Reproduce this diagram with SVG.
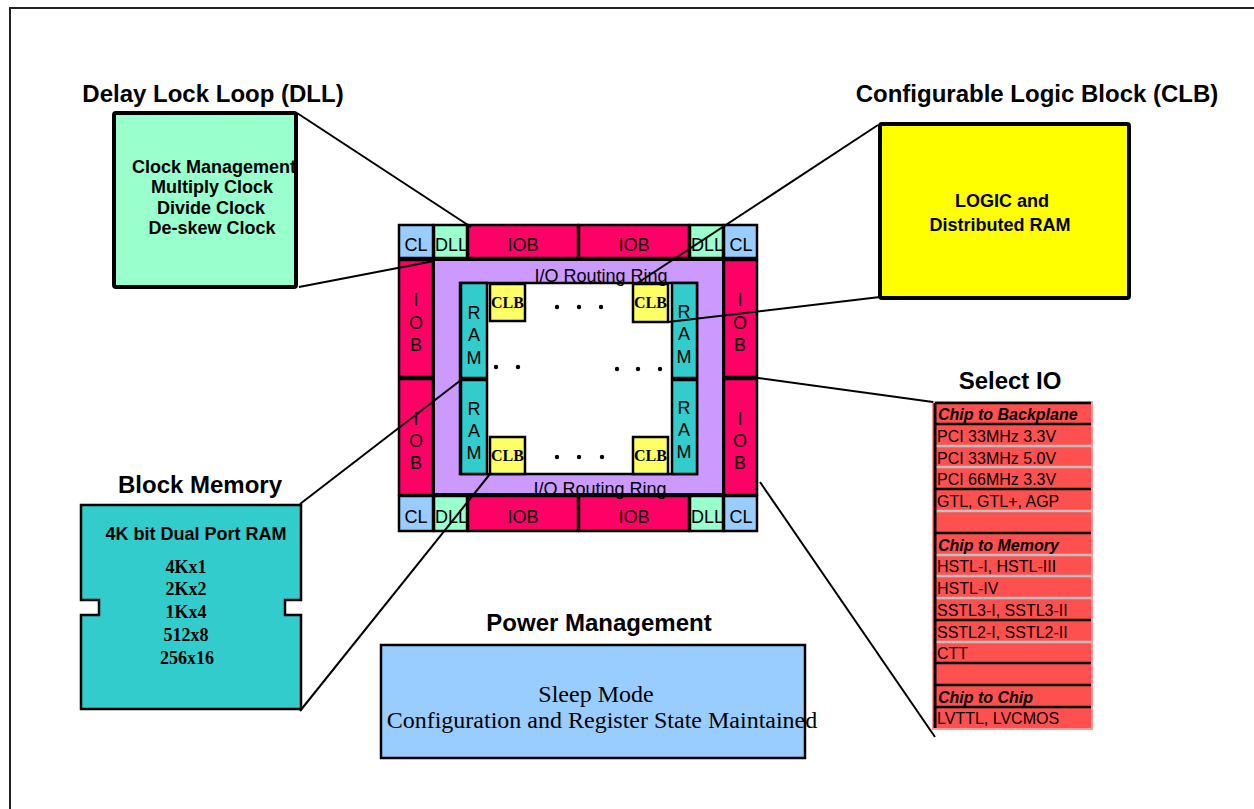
<svg xmlns="http://www.w3.org/2000/svg" width="1254" height="809" viewBox="0 0 1254 809">
  <style>
    .title { font-family: "Liberation Sans", Arial, sans-serif; font-weight: bold; font-size: 24px; fill: #000; text-anchor: middle; }
    .boxtxt { font-family: "Liberation Sans", Arial, sans-serif; font-weight: bold; font-size: 18px; fill: #000; text-anchor: middle; }
    .serifb { font-family: "Liberation Serif", "Times New Roman", serif; font-weight: bold; font-size: 18px; fill: #000; text-anchor: middle; }
    .serif { font-family: "Liberation Serif", "Times New Roman", serif; font-size: 24px; fill: #000; text-anchor: middle; }
    .cell { font-family: "Liberation Sans", Arial, sans-serif; font-size: 18px; fill: #000; text-anchor: middle; }
    .cellL { font-family: "Liberation Sans", Arial, sans-serif; font-size: 18px; fill: #000; }
    .clbt { font-family: "Liberation Serif", "Times New Roman", serif; font-weight: bold; font-size: 16px; fill: #000; text-anchor: middle; }
    .io { font-family: "Liberation Sans", Arial, sans-serif; font-size: 16px; fill: #000; }
    .ioh { font-family: "Liberation Sans", Arial, sans-serif; font-size: 16px; font-weight: bold; font-style: italic; fill: #000; }
    .k { stroke: #000; stroke-width: 2.5; }
    .iob { fill: #FF0066; }
    .cl { fill: #99CCFF; }
    .dll { fill: #99FFCC; }
    .ram { fill: #33CCCC; }
    .clb { fill: #FFFF66; }
    .conn line { stroke: #000; stroke-width: 2; }
    .sepK { stroke: #000; stroke-width: 2.5; }
    .sepG { stroke: #C0C0C0; stroke-width: 2.5; }
  </style>

  <rect width="1254" height="809" fill="#fff"/>
  <!-- page frame -->
  <rect x="10" y="8" width="1270" height="830" fill="none" stroke="#222" stroke-width="2"/>

  <!-- Titles -->
  <text class="title" x="213" y="102">Delay Lock Loop (DLL)</text>
  <text class="title" x="1037" y="102">Configurable Logic Block (CLB)</text>
  <text class="title" x="1010" y="389">Select IO</text>
  <text class="title" x="200" y="493">Block Memory</text>
  <text class="title" x="599" y="631">Power Management</text>

  <!-- DLL detail box -->
  <g id="dll-detail">
    <rect x="114" y="113" width="182" height="174" fill="#99FFCC"/>
    <text class="boxtxt" x="214" y="173">Clock Management</text>
    <text class="boxtxt" x="212" y="193">Multiply Clock</text>
    <text class="boxtxt" x="211" y="214">Divide Clock</text>
    <text class="boxtxt" x="212" y="234">De-skew Clock</text>
    <rect x="114" y="113" width="182" height="174" fill="none" stroke="#000" stroke-width="4" rx="2"/>
  </g>

  <!-- CLB detail box -->
  <g id="clb-detail">
    <rect x="880" y="124" width="249" height="174" fill="#FFFF00" stroke="#000" stroke-width="4" rx="2"/>
    <text class="boxtxt" x="1002" y="207">LOGIC and</text>
    <text class="boxtxt" x="1000" y="231">Distributed RAM</text>
  </g>

  <!-- Block memory detail -->
  <g id="block-memory">
    <path d="M81,505 H301 V600 H285 V615 H301 V709 H81 V615 H99 V600 H81 Z" fill="#33CCCC" stroke="#000" stroke-width="2.5"/>
    <text class="boxtxt" x="196" y="540">4K bit Dual Port RAM</text>
    <text class="serifb" x="186" y="573">4Kx1</text>
    <text class="serifb" x="186" y="595">2Kx2</text>
    <text class="serifb" x="186" y="618">1Kx4</text>
    <text class="serifb" x="186" y="641">512x8</text>
    <text class="serifb" x="187" y="664">256x16</text>
  </g>

  <!-- Power management box -->
  <g id="power-management">
    <rect x="381" y="645" width="424" height="113" fill="#99CCFF"/>
    <text class="serif" x="596" y="702">Sleep Mode</text>
    <text class="serif" x="602" y="728">Configuration and Register State Maintained</text>
    <rect x="381" y="645" width="424" height="113" fill="none" stroke="#000" stroke-width="2.5"/>
  </g>

  <!-- Select IO table -->
  <g id="select-io">
    <rect x="933" y="402" width="159" height="327" fill="#FF5050" stroke="#FF9999" stroke-width="2"/>
    <line class="sepK" x1="935" y1="424" x2="1091" y2="424"/>
    <line class="sepG" x1="935" y1="446" x2="1091" y2="446"/>
    <line class="sepG" x1="935" y1="467" x2="1091" y2="467"/>
    <line class="sepK" x1="935" y1="489" x2="1091" y2="489"/>
    <line class="sepG" x1="935" y1="511" x2="1091" y2="511"/>
    <line class="sepK" x1="935" y1="533" x2="1091" y2="533"/>
    <line class="sepG" x1="935" y1="555" x2="1091" y2="555"/>
    <line class="sepG" x1="935" y1="576" x2="1091" y2="576"/>
    <line class="sepG" x1="935" y1="598" x2="1091" y2="598"/>
    <line class="sepK" x1="935" y1="620" x2="1091" y2="620"/>
    <line class="sepG" x1="935" y1="642" x2="1091" y2="642"/>
    <line class="sepK" x1="935" y1="663" x2="1091" y2="663"/>
    <line class="sepK" x1="935" y1="685" x2="1091" y2="685"/>
    <line class="sepK" x1="935" y1="707" x2="1091" y2="707"/>
    <line class="sepK" x1="935" y1="403" x2="1091" y2="403"/>
    <line x1="935" y1="403" x2="935" y2="728" stroke="#000" stroke-width="3"/>
    <text class="ioh" x="938" y="420">Chip to Backplane</text>
    <text class="io" x="937" y="442">PCI 33MHz 3.3V</text>
    <text class="io" x="937" y="464">PCI 33MHz 5.0V</text>
    <text class="io" x="937" y="485">PCI 66MHz 3.3V</text>
    <text class="io" x="937" y="507">GTL, GTL+, AGP</text>
    <text class="ioh" x="938" y="551">Chip to Memory</text>
    <text class="io" x="937" y="572">HSTL-I, HSTL-III</text>
    <text class="io" x="937" y="594">HSTL-IV</text>
    <text class="io" x="937" y="616">SSTL3-I, SSTL3-II</text>
    <text class="io" x="937" y="638">SSTL2-I, SSTL2-II</text>
    <text class="io" x="937" y="659">CTT</text>
    <text class="ioh" x="938" y="703">Chip to Chip</text>
    <text class="io" x="937" y="724">LVTTL, LVCMOS</text>
  </g>

  <!-- FPGA die -->
  <g id="die">
    <!-- routing ring and core -->
    <rect x="434" y="260" width="289" height="234" fill="#CC99FF" stroke="#000" stroke-width="2"/>
    <rect x="460" y="283" width="237" height="191" fill="#fff" class="k"/>

    <g id="top-row">
      <g id="cl-tl"><rect x="399" y="225" width="34" height="33" class="cl k"/><text class="cell" x="416" y="251">CL</text></g>
      <g id="dll-tl"><rect x="434" y="225" width="33" height="33" class="dll k"/><text class="cellL" x="435" y="251">DLL</text></g>
      <g id="iob-t1"><rect x="468" y="225" width="110" height="33" class="iob k"/><text class="cell" x="523" y="251">IOB</text></g>
      <g id="iob-t2"><rect x="579" y="225" width="110" height="33" class="iob k"/><text class="cell" x="634" y="251">IOB</text></g>
      <g id="dll-tr"><rect x="690" y="225" width="33" height="33" class="dll k"/><text class="cellL" x="691" y="251">DLL</text></g>
      <g id="cl-tr"><rect x="724" y="225" width="33" height="33" class="cl k"/><text class="cell" x="741" y="251">CL</text></g>
    </g>

    <g id="bottom-row">
      <g id="cl-bl"><rect x="399" y="496" width="34" height="35" class="cl k"/><text class="cell" x="416" y="523">CL</text></g>
      <g id="dll-bl"><rect x="434" y="496" width="33" height="35" class="dll k"/><text class="cellL" x="435" y="523">DLL</text></g>
      <g id="iob-b1"><rect x="468" y="496" width="110" height="35" class="iob k"/><text class="cell" x="523" y="523">IOB</text></g>
      <g id="iob-b2"><rect x="579" y="496" width="110" height="35" class="iob k"/><text class="cell" x="634" y="523">IOB</text></g>
      <g id="dll-br"><rect x="690" y="496" width="33" height="35" class="dll k"/><text class="cellL" x="691" y="523">DLL</text></g>
      <g id="cl-br"><rect x="724" y="496" width="33" height="35" class="cl k"/><text class="cell" x="741" y="523">CL</text></g>
    </g>

    <g id="left-col">
      <g id="iob-l1"><rect x="399" y="260" width="34" height="117" class="iob k"/>
        <text class="cell" x="416" y="306">I</text><text class="cell" x="416" y="329">O</text><text class="cell" x="416" y="351">B</text></g>
      <g id="iob-l2"><rect x="399" y="379" width="34" height="116" class="iob k"/>
        <text class="cell" x="416" y="425">I</text><text class="cell" x="416" y="447">O</text><text class="cell" x="416" y="469">B</text></g>
    </g>

    <g id="right-col">
      <g id="iob-r1"><rect x="724" y="260" width="33" height="117" class="iob k"/>
        <text class="cell" x="740" y="306">I</text><text class="cell" x="740" y="329">O</text><text class="cell" x="740" y="351">B</text></g>
      <g id="iob-r2"><rect x="724" y="379" width="33" height="116" class="iob k"/>
        <text class="cell" x="740" y="425">I</text><text class="cell" x="740" y="447">O</text><text class="cell" x="740" y="469">B</text></g>
    </g>

    <g id="ram-blocks">
      <g id="ram-l1"><rect x="461" y="283" width="26" height="95" class="ram k"/>
        <text class="cell" x="474" y="319">R</text><text class="cell" x="474" y="341">A</text><text class="cell" x="474" y="364">M</text></g>
      <g id="ram-l2"><rect x="461" y="380" width="26" height="94" class="ram k"/>
        <text class="cell" x="474" y="415">R</text><text class="cell" x="474" y="437">A</text><text class="cell" x="474" y="459">M</text></g>
      <g id="ram-r1"><rect x="672" y="283" width="25" height="95" class="ram k"/>
        <text class="cell" x="684" y="318">R</text><text class="cell" x="684" y="340">A</text><text class="cell" x="684" y="363">M</text></g>
      <g id="ram-r2"><rect x="672" y="380" width="25" height="94" class="ram k"/>
        <text class="cell" x="684" y="414">R</text><text class="cell" x="684" y="436">A</text><text class="cell" x="684" y="458">M</text></g>
    </g>

    <g id="clb-cells">
      <g id="clb-tl"><rect x="490" y="284" width="35" height="37" class="clb k"/><text class="clbt" x="507.5" y="308">CLB</text></g>
      <g id="clb-tr"><rect x="633" y="284" width="35" height="38" class="clb k"/><text class="clbt" x="650.5" y="308">CLB</text></g>
      <g id="clb-bl"><rect x="490" y="437" width="35" height="37" class="clb k"/><text class="clbt" x="507.5" y="461">CLB</text></g>
      <g id="clb-br"><rect x="633" y="437" width="35" height="37" class="clb k"/><text class="clbt" x="650.5" y="461">CLB</text></g>
    </g>

    <text class="cell" x="601" y="282">I/O Routing Ring</text>
    <text class="cell" x="600" y="495">I/O Routing Ring</text>

    <!-- ellipsis dots -->
    <g fill="#000">
      <circle cx="557" cy="307" r="2.2"/><circle cx="579" cy="307" r="2.2"/><circle cx="601" cy="307" r="2.2"/>
      <circle cx="496" cy="367" r="2.2"/><circle cx="518" cy="367" r="2.2"/>
      <circle cx="617" cy="369" r="2.2"/><circle cx="638" cy="369" r="2.2"/><circle cx="660" cy="369" r="2.2"/>
      <circle cx="557" cy="457" r="2.2"/><circle cx="579" cy="457" r="2.2"/><circle cx="602" cy="457" r="2.2"/>
    </g>
  </g>

  <!-- callout lines -->
  <g id="connectors" class="conn">
    <line x1="297" y1="113" x2="471" y2="227"/>
    <line x1="299" y1="287" x2="434" y2="261"/>
    <line x1="878" y1="125" x2="636" y2="284"/>
    <line x1="880" y1="297" x2="668" y2="322"/>
    <line x1="758" y1="378" x2="933" y2="402"/>
    <line x1="760" y1="482" x2="935" y2="737"/>
    <line x1="300" y1="504" x2="461" y2="380"/>
    <line x1="300" y1="711" x2="490" y2="474"/>
  </g>
</svg>
